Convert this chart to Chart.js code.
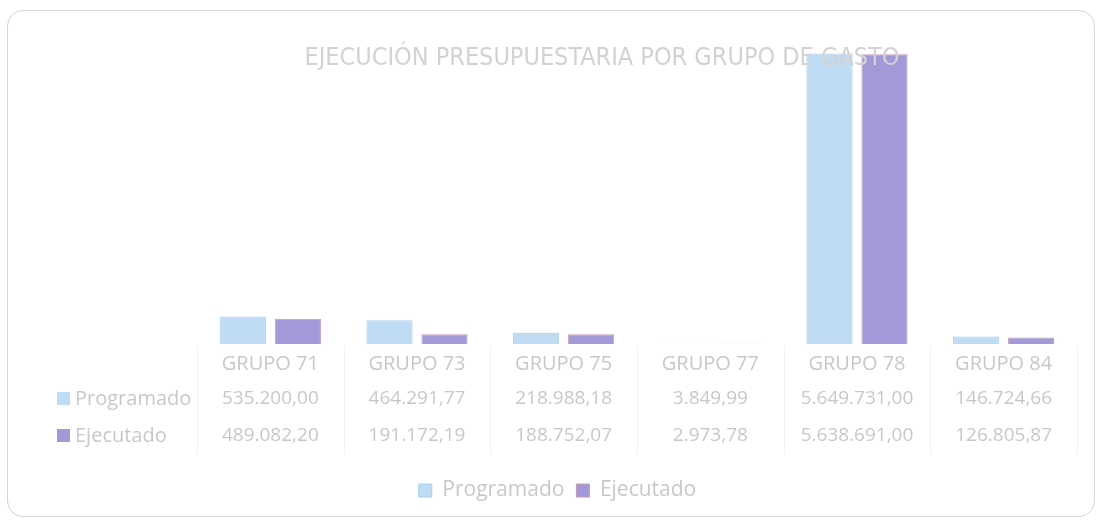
<!DOCTYPE html>
<html>
<head>
<meta charset="utf-8">
<script src="https://cdn.jsdelivr.net/npm/chart.js@4.4.1/dist/chart.umd.min.js"></script>
<style>
  html, body { margin: 0; padding: 0; background: #fff; }
  .frame {
    position: absolute; left: 7px; top: 10px; width: 1086px; height: 505px;
    border: 1px solid #d6d6d6; border-radius: 16px;
  }
  .wrap { position: absolute; left: 0; top: 0; width: 1101px; height: 522px; }
</style>
</head>
<body>
<div class="frame"></div>
<div class="wrap"><canvas id="chart"></canvas></div>
<script>
const chartTitle = "EJECUCIÓN PRESUPUESTARIA POR GRUPO DE GASTO";
const categories = ["GRUPO 71", "GRUPO 73", "GRUPO 75", "GRUPO 77", "GRUPO 78", "GRUPO 84"];
const programado = [535200.00, 464291.77, 218988.18, 3849.99, 5649731.00, 146724.66];
const ejecutado = [489082.20, 191172.19, 188752.07, 2973.78, 5638691.00, 126805.87];
const programadoText = ["535.200,00", "464.291,77", "218.988,18", "3.849,99", "5.649.731,00", "146.724,66"];
const ejecutadoText = ["489.082,20", "191.172,19", "188.752,07", "2.973,78", "5.638.691,00", "126.805,87"];

const textColor = "#c8c8c8";
const blue = "#bfdcf4";
const purple = "#a29ad8";

// title and data table under the x axis
const tablePlugin = {
  id: "dataTable",
  afterDraw(chart) {
    const ctx = chart.ctx;
    const x = chart.scales.x;
    ctx.save();
    ctx.fillStyle = "#d2d2d2";
    ctx.font = "25px 'Liberation Sans Narrow', 'DejaVu Sans Condensed', sans-serif";
    ctx.textAlign = "center";
    ctx.textBaseline = "middle";
    ctx.fillText(chartTitle, 602, 58);

    const rows = [
      { name: "Programado", color: blue, vals: programadoText, y: 399 },
      { name: "Ejecutado", color: purple, vals: ejecutadoText, y: 436 },
    ];
    rows.forEach(r => {
      ctx.fillStyle = r.color;
      ctx.fillRect(57, r.y - 7, 13, 13);
      ctx.fillStyle = textColor;
      ctx.textAlign = "left";
      ctx.font = "20px 'Open Sans', sans-serif";
      ctx.fillText(r.name, 75, r.y);
      ctx.textAlign = "center";
      ctx.font = "19px 'Open Sans', sans-serif";
      r.vals.forEach((v, i) => {
        ctx.fillText(v, x.getPixelForValue(i), r.y);
      });
    });
    // faint table grid
    ctx.strokeStyle = "#f3f3f3";
    ctx.lineWidth = 1;
    for (let i = 0; i <= categories.length; i++) {
      const px = Math.round(x.left + (x.right - x.left) * i / categories.length) + 0.5;
      ctx.beginPath();
      ctx.moveTo(px, 346);
      ctx.lineTo(px, 455);
      ctx.stroke();
    }
    ctx.restore();
  }
};

new Chart(document.getElementById("chart"), {
  type: "bar",
  data: {
    labels: categories,
    datasets: [
      { label: "Programado", data: programado, backgroundColor: blue, borderColor: "#a8cdee", borderWidth: 1 },
      { label: "Ejecutado", data: ejecutado, backgroundColor: purple, borderColor: "#c49ab8", borderWidth: 1 },
    ],
  },
  options: {
    responsive: true,
    maintainAspectRatio: false,
    animation: false,
    categoryPercentage: 0.75,
    barPercentage: 0.84,
    layout: { padding: { left: 38, right: 24, top: 51, bottom: 11 } },
    scales: {
      x: {
        grid: { display: false },
        border: { display: false },
        ticks: { color: textColor, font: { family: "'Open Sans', sans-serif", size: 20 }, padding: 0, maxRotation: 0 },
        afterFit(scale) { scale.height = 124; },
      },
      y: {
        min: 0,
        max: 5700000,
        grid: { display: false },
        border: { display: false },
        ticks: { display: false },
        afterFit(scale) { scale.width = 159; },
      },
    },
    plugins: {
      title: { display: false },
      tooltip: { enabled: false },
      legend: {
        position: "bottom",
        labels: {
          color: textColor,
          boxWidth: 13,
          boxHeight: 13,
          padding: 12,
          font: { family: "'Open Sans', sans-serif", size: 21 },
        },
      },
    },
  },
  plugins: [tablePlugin],
});
</script>
</body>
</html>
